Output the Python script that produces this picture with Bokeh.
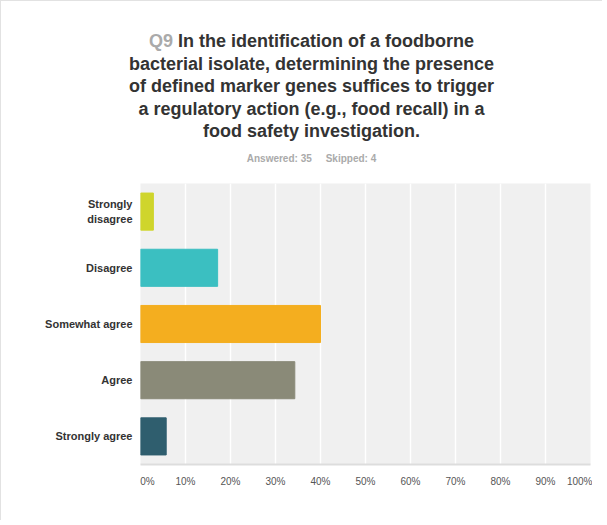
from bokeh.plotting import figure
from bokeh.models import ColumnDataSource, Div
from bokeh.layouts import column
from bokeh.embed import file_html
from bokeh.resources import INLINE

categories = ["Strongly\ndisagree", "Disagree", "Somewhat agree", "Agree", "Strongly agree"]
percents = [2.86, 17.14, 40.00, 34.29, 5.71]
colors = ["#cfd52c", "#3bbfc1", "#f4ae1f", "#8a8a78", "#2f5e6e"]
tick_values = [0, 10, 20, 30, 40, 50, 60, 70, 80, 90, 100]
tick_labels = ["0%", "10%", "20%", "30%", "40%", "50%", "60%", "70%", "80%", "90%", "100%"]
q_label = "Q9"
title_lines = [
    "In the identification of a foodborne",
    "bacterial isolate, determining the presence",
    "of defined marker genes suffices to trigger",
    "a regulatory action (e.g., food recall) in a",
    "food safety investigation.",
]
answered = 35
skipped = 4

FONT = "Liberation Sans"
W = 591
DIV_H = 159
FIG_H = 350
PAD_L = 20

NB = "\u00a0"
overrides = {v: t for v, t in zip(tick_values, tick_labels)}
overrides[tick_values[0]] = NB * 5 + tick_labels[0]

title_html = (
    f'<div style="box-sizing:border-box; width:{W}px; padding:24px 0 0 {PAD_L}px; text-align:center; font-family:\'{FONT}\', Arial, sans-serif;">'
    f'<div style="font-size:18px; font-weight:bold; line-height:22.5px; color:#333333;">'
    f'<span style="color:#aaaaaa;">{q_label}</span> ' + "<br>".join(title_lines) + '</div>'
    f'<div style="margin-top:10px; font-size:10px; font-weight:bold; line-height:12px; color:#aaaaaa;">'
    f'Answered: {answered}&nbsp;&nbsp;&nbsp;&nbsp;&nbsp;Skipped: {skipped}</div>'
    '</div>'
)
div = Div(text=title_html, width=W, height=DIV_H)

p = figure(width=W, height=FIG_H, y_range=list(reversed(categories)), x_range=(0, 100),
           output_backend="svg", toolbar_location=None,
           min_border_left=139, min_border_right=2, min_border_top=13, min_border_bottom=56)
p.outline_line_color = None
p.background_fill_color = "#f0f0f0"
p.border_fill_color = "white"
p.y_range.range_padding = 0

src = ColumnDataSource(dict(cat=categories, pct=percents, color=colors))
p.hbar(y="cat", left=0, right="pct", height=0.66, fill_color="color", line_color="color", source=src)

p.ygrid.grid_line_color = None
p.xgrid.grid_line_color = "white"
p.xgrid.grid_line_width = 1.5
p.xaxis.ticker = tick_values
p.xaxis.major_label_overrides = overrides
p.xaxis.major_label_text_font = FONT
p.xaxis.major_label_text_font_size = "10px"
p.xaxis.major_label_text_color = "#555555"
p.xaxis.major_label_standoff = 5
p.xaxis.axis_line_color = "#dddddd"
p.xaxis.axis_line_width = 2
p.xaxis.major_tick_line_color = None
p.xaxis.minor_tick_line_color = None

p.yaxis.axis_line_color = None
p.yaxis.major_tick_line_color = None
p.yaxis.minor_tick_line_color = None
p.yaxis.major_label_text_font = FONT
p.yaxis.major_label_text_font_style = "bold"
p.yaxis.major_label_text_font_size = "11px"
p.yaxis.major_label_text_color = "#333333"
p.yaxis.major_label_standoff = 2

layout = column(div, p, spacing=0,
                styles={"border-left": "1px solid #e2e2e2", "border-top": "1px solid #e2e2e2"})

open("out.html", "w").write(file_html(layout, INLINE))
